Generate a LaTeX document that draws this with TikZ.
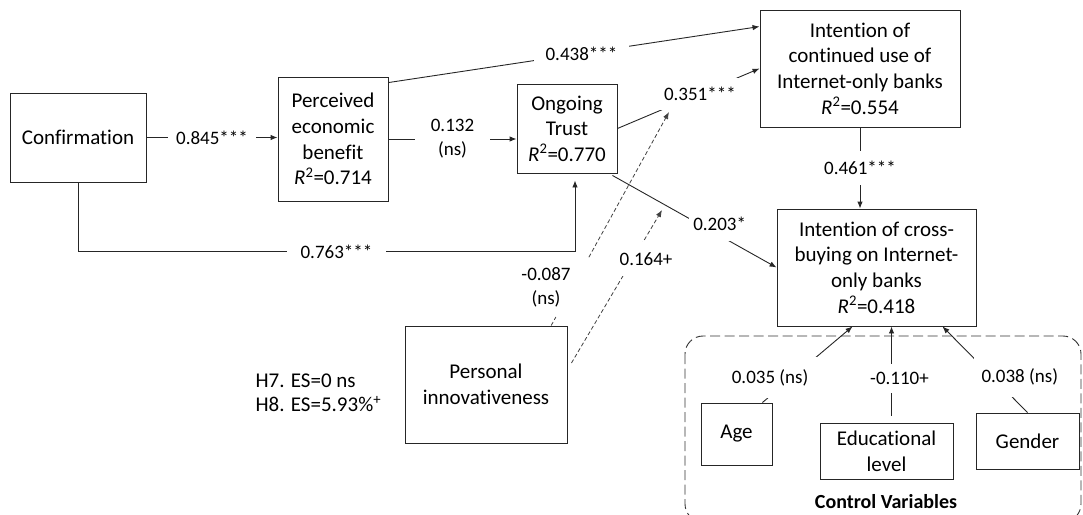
\documentclass[tikz,border=0pt]{standalone}
\usepackage{fontspec}
\setmainfont{Carlito}[Ligatures=NoCommon]
\usetikzlibrary{calc}
\usetikzlibrary{positioning}
\usetikzlibrary{arrows.meta}
\tikzset{
  % boxes for the constructs, width and height given per box
  construct/.style 2 args={
    draw=black!85,line width=0.9pt,align=center,inner sep=0pt,
    font=\fontsize{21}{25.6}\selectfont,
    minimum width=#1,minimum height=#2,
  },
  % path coefficients sit on the line and cut it
  coef/.style={fill=white,align=center,inner xsep=4pt,inner ysep=3pt,
    font=\fontsize{19}{24}\selectfont},
  % structural paths
  pathline/.style={draw=black!85,line width=0.9pt,-{Latex[length=7pt,width=5.5pt]}},
  % moderating effects
  moder/.style={draw=black!75,line width=0.8pt,dash pattern=on 4pt off 2.5pt},
  ctrlframe/.style={draw=black!80,line width=0.9pt,dash pattern=on 10pt off 4.5pt,
    rounded corners=18pt},
}
\newcommand{\rsq}{\textit{R}\textsuperscript{2}}

\begin{document}
\begin{tikzpicture}[x=1pt,y=-1pt]
  \useasboundingbox (0,0) rectangle (1083,514);
  % frame of the control variables
  \draw[ctrlframe] (685,336) rectangle (1081,522);

  \node[construct={136}{89}] (conf) at (78,137.5) {Confirmation};
  \node[construct={110}{124}] (peb) at (333,139) {Perceived\\economic\\benefit\\\rsq=0.714};
  \node[construct={100}{89}] (trust) at (567,128.5) {Ongoing\\Trust\\\rsq=0.770};
  \node[construct={200}{117}] (cont) at (860,68.5) {Intention of\\continued use of\\Internet-only banks\\\rsq=0.554};
  \node[construct={199}{117}] (cross) at (876.5,267.5) {Intention of cross-\\buying on Internet-\\only banks\\\rsq=0.418};
  \node[construct={162}{117}] (pi) at (486,384.5) {Personal\\innovativeness};
  \node[construct={71}{62}] (age) at (736.5,434) {Age};
  \node[construct={133}{56}] (edu) at (886.5,451) {Educational\\level};
  \node[construct={103}{56}] (gender) at (1027.5,441) {Gender};
  \node[font=\bfseries\fontsize{20}{24}\selectfont] (ctrl) at (886,502) {Control Variables};
  \node[anchor=west,align=left,font=\fontsize{21}{24}\selectfont] (es) at (252,393)
    {H7. ES=0 ns\\H8. ES=5.93\%\textsuperscript{+}};

  % main paths
  \draw[pathline] (conf.east) -- node[coef,inner xsep=8pt]{0.845***} (conf.east -| peb.west);
  \draw[pathline] (peb.east) -- node[coef,inner xsep=16pt]{0.132\\(ns)} (peb.east -| trust.west);
  \draw[pathline] ($(peb.north east)+(0,6)$) -- node[coef,pos=0.52,inner xsep=12pt]{0.438***}
    ($(cont.north west)+(0,17)$);
  \draw[pathline] (trust.east) -- node[coef,pos=0.58,inner ysep=9pt]{0.351***} (cont.west);
  \draw[pathline] ($(trust.south east)+(-5,2)$) -- node[coef,pos=0.58,xshift=12pt,yshift=5pt,inner ysep=10pt]{0.203*}
    (cross.west);
  \draw[pathline] (conf.south) |- node[coef,pos=0.76,inner xsep=14pt]{0.763***}
    ($(trust.south)+(8,78)$) -- ($(trust.south)+(8,7)$);
  \draw[pathline] (cont.south) -- node[coef,inner ysep=10pt]{0.461***} (cont.south |- cross.north);

  % moderation by personal innovativeness
  \coordinate (tipA) at (669,112);
  \coordinate (tipB) at (662,210);
  \coordinate (pitop) at ($(pi.north west)!0.9!(pi.north east)$);
  \draw[moder] (pitop) -- ($(pitop)!0.04!(tipA)$);
  \draw[moder,-{Latex[length=7pt,width=5.5pt]}] ($(pitop)!0.32!(tipA)$) -- (tipA);
  \node[coef] (l087) at (546,287) {-0.087\\(ns)};
  \draw[moder,-{Latex[length=7pt,width=5.5pt]}] ($(pi.east)+(4,-21.5)$) --
    node[coef,pos=0.68,xshift=13pt,inner ysep=10.5pt]{0.164+} (tipB);

  % control variables
  \coordinate (e1) at ($(edu.north)+(5,0)$);
  \draw[pathline] ($(age.north west)!0.86!(age.north east)$) --
    node[coef,pos=0.33,xshift=-22pt,inner xsep=9pt,inner ysep=12pt]{0.035 (ns)}
    ($(cross.south west)!0.38!(cross.south east)$);
  \draw[pathline,shorten <=7pt] (e1) --
    node[coef,pos=0.46,xshift=8pt,inner ysep=8.5pt]{-0.110+} (e1 |- cross.south);
  \draw[pathline] (gender.north) --
    node[coef,pos=0.42,xshift=28pt,inner xsep=8pt,inner ysep=12pt]{0.038 (ns)}
    ($(cross.south west)!0.83!(cross.south east)$);
\end{tikzpicture}
\end{document}
